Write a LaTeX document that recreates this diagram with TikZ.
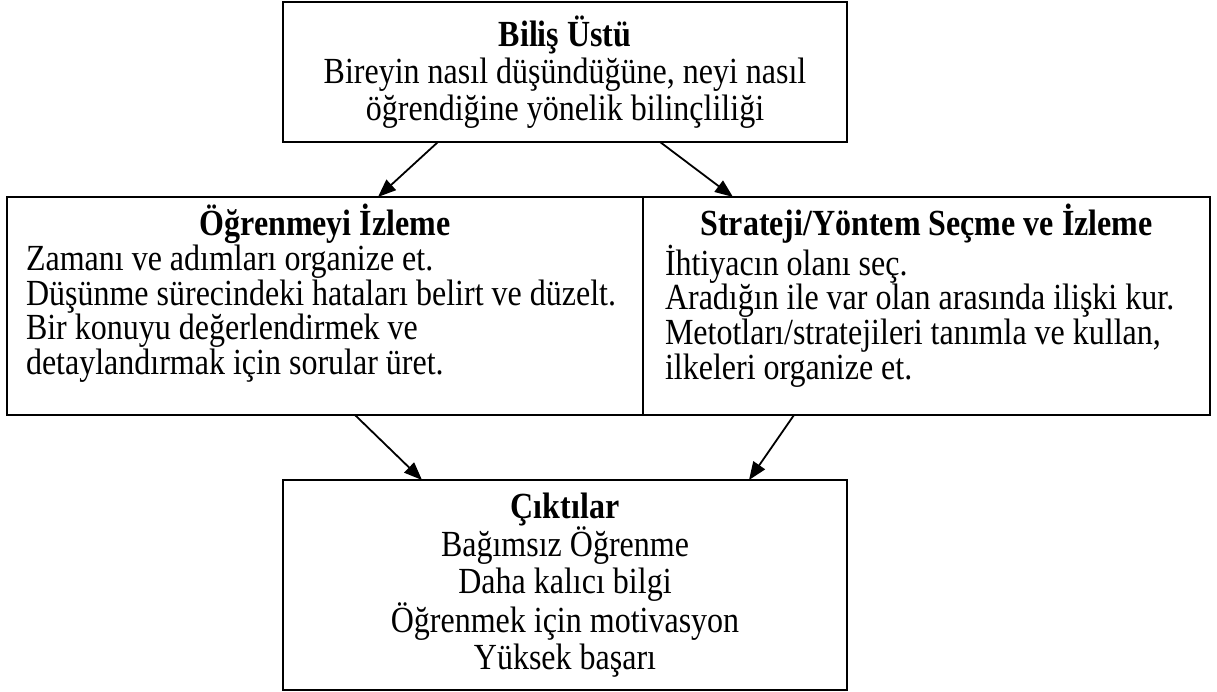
\documentclass[tikz,border=0pt]{standalone}
\usepackage{graphicx}
\usepackage{fontspec}
\setmainfont{Liberation Serif}
\usetikzlibrary{arrows.meta,calc}

\tikzset{
  box/.style={draw, line width=2pt, inner sep=0pt, outer sep=0pt},
  link/.style={line width=1.8pt, -{Triangle[length=18pt,width=14pt]}},
}

% the lettering is set slightly taller than the font's natural shape
\newcommand\tallfactor{1.15}
% centred text block: width, height (before stretching), content
\newcommand\centredblock[3]{\scalebox{1}[\tallfactor]{%
  \parbox[c][#2][c]{#1}{\fontsize{32pt}{32.2pt}\selectfont\centering #3}}}
% top-aligned block with a centred bold heading and left-aligned lines
\newcommand\headedblock[4]{\scalebox{1}[\tallfactor]{%
  \parbox[c][#2][t]{#1}{%
  \fontsize{32pt}{28.3pt}\selectfont
  \rule{0pt}{33.9pt}\makebox[#1]{\textbf{#3}}\\
  #4}}}

\begin{document}
\begin{tikzpicture}[x=1pt,y=-1pt]
  \useasboundingbox (0,0) rectangle (1217,692);

  % upper box
  \node[box] (top) at (565,72) {\centredblock{564pt}{121.7pt}{%
    \textbf{Biliş Üstü}\\
    Bireyin nasıl düşündüğüne, neyi nasıl\\
    öğrendiğine yönelik bilinçliliği}};

  % two middle boxes
  \node[box] (left) at (325,306) {\headedblock{636pt}{189.6pt}{Öğrenmeyi İzleme}{%
    \hspace*{19pt}Zamanı ve adımları organize et.\\
    \hspace*{19pt}Düşünme sürecindeki hataları belirt ve düzelt.\\
    \hspace*{19pt}Bir konuyu değerlendirmek ve\\
    \hspace*{19pt}detaylandırmak için sorular üret.}};

  \node[box] (right) at (926.5,306) {\headedblock{567pt}{189.6pt}{Strateji/Yöntem Seçme ve İzleme}{%
    \hspace*{22pt}İhtiyacın olanı seç.\\
    \hspace*{22pt}Aradığın ile var olan arasında ilişki kur.\\
    \hspace*{22pt}Metotları/stratejileri tanımla ve kullan,\\
    \hspace*{22pt}ilkeleri organize et.}};

  % lower box
  \node[box] (bot) at (565,585) {\centredblock{564pt}{182.6pt}{%
    \textbf{Çıktılar}\\
    Bağımsız Öğrenme\\
    Daha kalıcı bilgi\\
    Öğrenmek için motivasyon\\
    Yüksek başarı}};

  % connector end points on the box borders
  \coordinate (a1s) at ([xshift=155pt]top.south west);
  \coordinate (a1e) at ([xshift=371pt]left.north west);
  \coordinate (a2s) at ([xshift=377pt]top.south west);
  \coordinate (a2e) at ([xshift=90pt]right.north west);
  \coordinate (b1s) at ([xshift=348pt]left.south west);
  \coordinate (b1e) at ([xshift=139pt]bot.north west);
  \coordinate (b2s) at ([xshift=151pt]right.south west);
  \coordinate (b2e) at ([xshift=466pt]bot.north west);

  \draw[link] (a1s) -- (a1e);
  \draw[link] (a2s) -- (a2e);
  \draw[link] (b1s) -- (b1e);
  \draw[link] (b2s) -- (b2e);
\end{tikzpicture}
\end{document}
